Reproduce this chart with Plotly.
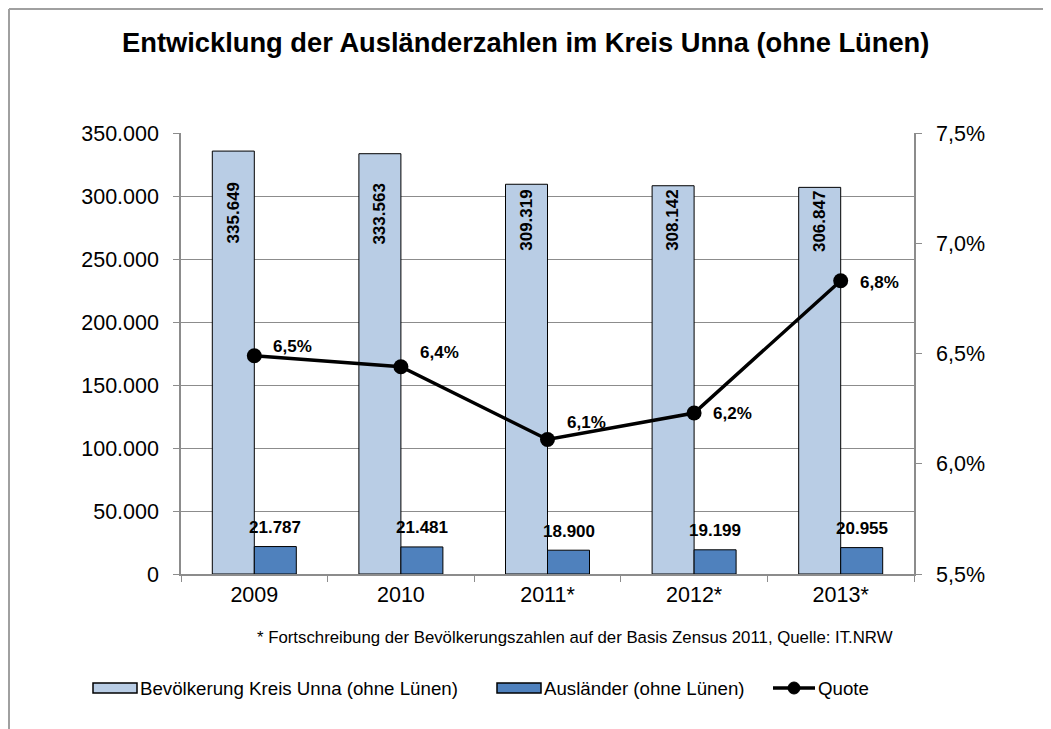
import plotly.graph_objects as go

# ---- data ----
years = ["2009", "2010", "2011*", "2012*", "2013*"]
bevoelkerung = [335649, 333563, 309319, 308142, 306847]
auslaender = [21787, 21481, 18900, 19199, 20955]
quote = [0.0649, 0.0644, 0.0611, 0.0623, 0.0683]

# ---- styling / positioning ----
OFF = 8                      # page body margin of the browser
PAGE_W, PAGE_H = 1051, 729
W, H = PAGE_W - OFF, PAGE_H - OFF
PL, PR, PT, PB = 181, 914, 133, 574   # plot area in page pixels
L, R, T, B = PL - OFF, PAGE_W - PR, PT - OFF, PAGE_H - PB
FONT = "Liberation Sans, Arial, sans-serif"
LIGHT = "#B9CDE5"
DARK = "#4F81BD"
GRID = "#8C8C8C"

def px_x(px):
    return (px - PL) / (PR - PL)

def px_y(py):
    return (PB - py) / (PB - PT)

def de(v):
    return f"{v:,}".replace(",", ".")

def pct(v):
    return f"{v*100:.1f}%".replace(".", ",")

fig = go.Figure()
fig.add_trace(go.Bar(x=years, y=bevoelkerung, name="Bevölkerung Kreis Unna (ohne Lünen)",
                     marker=dict(color=LIGHT, line=dict(color="black", width=1)),
                     showlegend=False, hoverinfo="skip"))
fig.add_trace(go.Bar(x=years, y=auslaender, name="Ausländer (ohne Lünen)",
                     marker=dict(color=DARK, line=dict(color="black", width=1)),
                     showlegend=False, hoverinfo="skip"))
fig.add_trace(go.Scatter(x=years, y=quote, name="Quote", yaxis="y2", mode="lines+markers",
                         line=dict(color="black", width=3.5),
                         marker=dict(color="black", size=15),
                         showlegend=False, hoverinfo="skip"))

ann = []
# light bar labels (rotated)
light_shift = [-62, -60, -36, -35, -34]
for i, (v, s) in enumerate(zip(bevoelkerung, light_shift)):
    ann.append(dict(x=i, y=v, xref="x", yref="y", text=f"<b>{de(v)}</b>", showarrow=False,
                    textangle=-90, xanchor="center", yanchor="middle", xshift=-21, yshift=s,
                    font=dict(family=FONT, size=17, color="black")))
# dark bar labels
for i, v in enumerate(auslaender):
    ann.append(dict(x=i, y=v, xref="x", yref="y", text=f"<b>{de(v)}</b>", showarrow=False,
                    xanchor="center", yanchor="middle", xshift=21, yshift=19,
                    font=dict(family=FONT, size=17, color="black")))
# line labels
q_shift = [9, 14, 17, 0, -2]
for i, (v, s) in enumerate(zip(quote, q_shift)):
    ann.append(dict(x=i, y=v, xref="x", yref="y2", text=f"<b>{pct(v)}</b>", showarrow=False,
                    xanchor="left", yanchor="middle", xshift=17, yshift=s,
                    font=dict(family=FONT, size=17, color="black")))
# footnote
ann.append(dict(x=px_x(575), y=px_y(637), xref="paper", yref="paper",
                text="* Fortschreibung der Bevölkerungszahlen auf der Basis Zensus 2011, Quelle: IT.NRW",
                showarrow=False, xanchor="center", yanchor="middle",
                font=dict(family=FONT, size=16.8, color="black")))
# legend texts
leg_y = 688
for xpx, txt in [(138, "Bevölkerung Kreis Unna (ohne Lünen)"), (542, "Ausländer (ohne Lünen)"), (816, "Quote")]:
    ann.append(dict(x=px_x(xpx), y=px_y(leg_y), xref="paper", yref="paper", text=txt,
                    showarrow=False, xanchor="left", yanchor="middle",
                    font=dict(family=FONT, size=18.7, color="black")))
# title
ann.append(dict(x=px_x(525), y=px_y(42), xref="paper", yref="paper",
                text="<b>Entwicklung der Ausländerzahlen im Kreis Unna (ohne Lünen)</b>",
                showarrow=False, xanchor="center", yanchor="middle",
                font=dict(family=FONT, size=27.3, color="black")))

shapes = []
# legend swatches
for x0, x1, col in [(93, 137, LIGHT), (497, 541, DARK)]:
    shapes.append(dict(type="rect", xref="paper", yref="paper",
                       x0=px_x(x0), x1=px_x(x1), y0=px_y(693), y1=px_y(683),
                       fillcolor=col, line=dict(color="black", width=1.5)))
shapes.append(dict(type="line", xref="paper", yref="paper",
                   x0=px_x(773), x1=px_x(815), y0=px_y(leg_y), y1=px_y(leg_y),
                   line=dict(color="black", width=3.5)))
shapes.append(dict(type="circle", xref="paper", yref="paper",
                   x0=px_x(788), x1=px_x(800), y0=px_y(694), y1=px_y(682),
                   fillcolor="black", line=dict(color="black", width=1)))
# outer chart border (top and left visible) - drawn just inside the figure
shapes.append(dict(type="line", xref="paper", yref="paper",
                   x0=px_x(OFF + 1), x1=px_x(1060), y0=px_y(OFF + 1), y1=px_y(OFF + 1),
                   line=dict(color="#A0A0A0", width=2)))
shapes.append(dict(type="line", xref="paper", yref="paper",
                   x0=px_x(OFF + 1), x1=px_x(OFF + 1), y0=px_y(OFF + 1), y1=px_y(740),
                   line=dict(color="#A0A0A0", width=2)))

fig.update_layout(
    width=W, height=H,
    margin=dict(l=L, r=R, t=T, b=B, autoexpand=False),
    paper_bgcolor="white", plot_bgcolor="white",
    separators=",.",
    barmode="group", bargap=0.427, bargroupgap=0,
    font=dict(family=FONT, color="black"),
    xaxis=dict(type="category", range=[-0.5, 4.5], showline=True, linecolor=GRID, linewidth=1.5,
               ticks="outside", tickson="boundaries", ticklen=6, tickcolor=GRID,
               tickfont=dict(size=21.5, color="black"), showgrid=False, tickangle=0),
    yaxis=dict(range=[0, 350000], dtick=50000, tickformat=",d", showline=True, linecolor=GRID,
               linewidth=1.5, ticks="outside", ticklen=6, tickcolor=GRID, showgrid=True,
               gridcolor=GRID, gridwidth=1, zeroline=False, ticklabelstandoff=10,
               tickfont=dict(size=21.5, color="black")),
    yaxis2=dict(range=[0.055, 0.075], dtick=0.005, tickformat=".1%", overlaying="y", side="right",
                showline=True, linecolor=GRID, linewidth=1.5, ticks="outside", ticklen=6,
                tickcolor=GRID, showgrid=False, zeroline=False, ticklabelstandoff=10,
                tickfont=dict(size=21.5, color="black")),
    annotations=ann, shapes=shapes,
)

fig.write_html("out.html")
